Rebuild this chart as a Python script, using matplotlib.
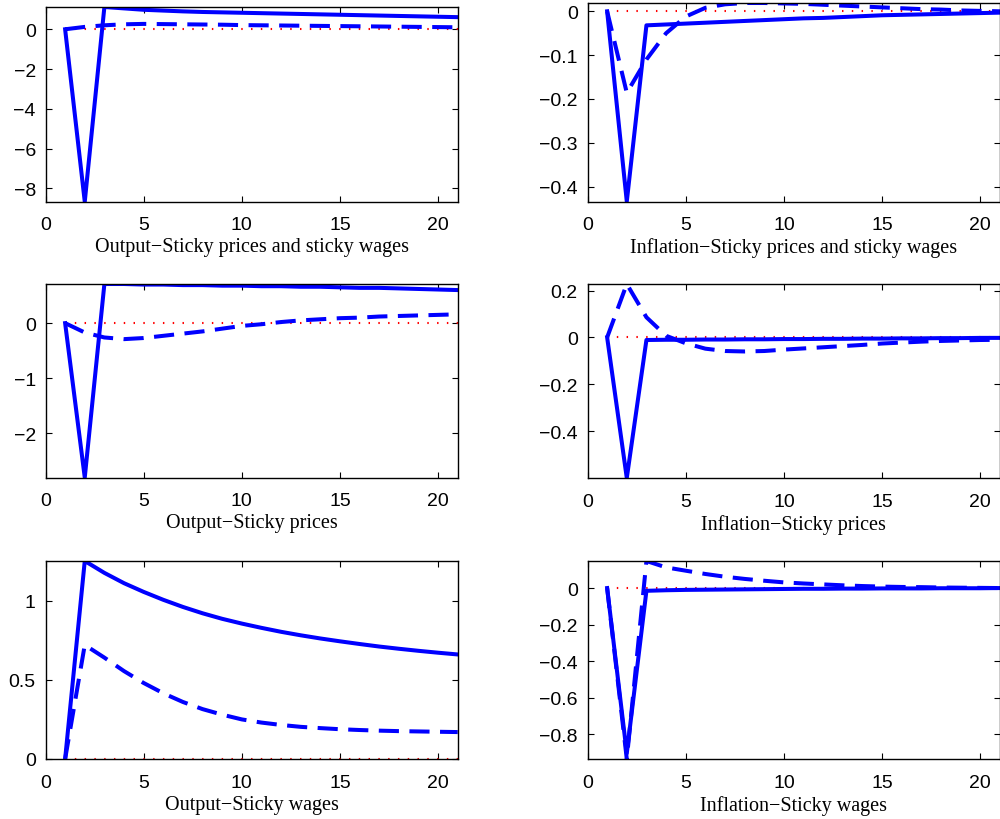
import matplotlib
matplotlib.use('Agg')
import matplotlib.pyplot as plt
from matplotlib.ticker import FuncFormatter

periods = list(range(1, 22))

# Output - sticky prices and sticky wages
out_both_solid = [0, -8.67, 1.12, 1.05, 0.98, 0.94, 0.90, 0.87, 0.85, 0.83, 0.81, 0.79, 0.77,
                  0.75, 0.73, 0.71, 0.69, 0.67, 0.65, 0.63, 0.61]
out_both_dash = [0, 0.12, 0.2, 0.25, 0.27, 0.26, 0.25, 0.24, 0.23, 0.21, 0.2, 0.19, 0.18,
                 0.17, 0.16, 0.15, 0.14, 0.13, 0.12, 0.11, 0.1]

# Inflation - sticky prices and sticky wages
inf_both_solid = [0, -0.434, -0.032, -0.030, -0.028, -0.026, -0.024, -0.022, -0.020, -0.018,
                  -0.016, -0.015, -0.013, -0.011, -0.009, -0.008, -0.007, -0.006, -0.005,
                  -0.004, -0.003]
inf_both_dash = [0, -0.186, -0.11, -0.05, -0.012, 0.008, 0.016, 0.019, 0.019, 0.018, 0.017,
                 0.015, 0.013, 0.011, 0.009, 0.007, 0.005, 0.004, 0.002, 0.001, 0.0]

# Output - sticky prices
out_p_solid = [0, -2.80, 0.71, 0.71, 0.70, 0.70, 0.69, 0.69, 0.68, 0.68, 0.67, 0.67, 0.66,
               0.66, 0.65, 0.64, 0.64, 0.63, 0.62, 0.61, 0.60]
out_p_dash = [0, -0.17, -0.26, -0.29, -0.27, -0.23, -0.19, -0.15, -0.10, -0.05, -0.02, 0.02,
              0.05, 0.07, 0.09, 0.10, 0.12, 0.13, 0.14, 0.15, 0.16]

# Inflation - sticky prices
inf_p_solid = [0, -0.60, -0.011, -0.010, -0.010, -0.009, -0.009, -0.008, -0.008, -0.007,
               -0.007, -0.006, -0.006, -0.005, -0.005, -0.004, -0.004, -0.003, -0.003,
               -0.002, -0.002]
inf_p_dash = [0, 0.228, 0.086, 0.007, -0.025, -0.048, -0.058, -0.06, -0.058, -0.052, -0.047,
              -0.042, -0.037, -0.032, -0.026, -0.022, -0.018, -0.015, -0.013, -0.011, -0.01]

# Output - sticky wages
out_w_solid = [0, 1.25, 1.175, 1.11, 1.055, 1.005, 0.96, 0.92, 0.885, 0.855, 0.828, 0.803,
               0.781, 0.761, 0.743, 0.726, 0.71, 0.696, 0.683, 0.671, 0.66]
out_w_dash = [0, 0.72, 0.64, 0.555, 0.48, 0.415, 0.36, 0.315, 0.28, 0.25, 0.23, 0.215,
              0.203, 0.195, 0.188, 0.183, 0.179, 0.176, 0.174, 0.172, 0.17]

# Inflation - sticky wages
inf_w_solid = [0, -0.904, -0.015, -0.012, -0.01, -0.009, -0.008, -0.007, -0.006, -0.005,
               -0.004, -0.004, -0.003, -0.003, -0.002, -0.002, -0.002, -0.001, -0.001,
               -0.001, 0.0]
inf_w_dash = [0, -0.935, 0.148, 0.113, 0.095, 0.077, 0.062, 0.05, 0.04, 0.031, 0.025, 0.02,
              0.015, 0.011, 0.008, 0.006, 0.005, 0.003, 0.002, 0.001, 0.0]

zero_line = [0] * len(periods)

titles = ['Output\u2212Sticky prices and sticky wages',
          'Inflation\u2212Sticky prices and sticky wages',
          'Output\u2212Sticky prices', 'Inflation\u2212Sticky prices',
          'Output\u2212Sticky wages', 'Inflation\u2212Sticky wages']
solids = [out_both_solid, inf_both_solid, out_p_solid, inf_p_solid, out_w_solid, inf_w_solid]
dashes = [out_both_dash, inf_both_dash, out_p_dash, inf_p_dash, out_w_dash, inf_w_dash]
yticks = [[-8, -6, -4, -2, 0], [-0.4, -0.3, -0.2, -0.1, 0], [-2, -1, 0],
          [-0.4, -0.2, 0, 0.2], [0, 0.5, 1], [-0.8, -0.6, -0.4, -0.2, 0]]

# axes rectangles in pixels: left, top, right, bottom
rects = [(45.5, 8, 457.7, 202.7), (587.5, 4, 1000, 202.5),
         (45.5, 285, 457.7, 478.5), (587.5, 285, 1000, 479),
         (45.5, 562, 457.7, 760), (587.5, 562, 1000, 760)]

fig = plt.figure(figsize=(10, 8.2), dpi=100)

fmt = FuncFormatter(lambda v, p: ('%g' % v).replace('-', '\u2212'))

for i in range(6):
    l, t, r, b = rects[i]
    ax = fig.add_axes([l / 1000, 1 - b / 820, (r - l) / 1000, (b - t) / 820])
    ax.plot(periods, zero_line, color='red', linestyle=(0, (0.7, 4.0)), linewidth=1.5)
    ax.plot(periods, dashes[i], color='blue', linewidth=2.9, dashes=(5, 2.6))
    ax.plot(periods, solids[i], color='blue', linewidth=2.9)
    ax.set_xlim(0, 21)
    lo = min(min(solids[i]), min(dashes[i]), 0)
    hi = max(max(solids[i]), max(dashes[i]), 0)
    ax.set_ylim(lo, hi)
    ax.set_xticks([0, 5, 10, 15, 20])
    ax.set_yticks(yticks[i])
    ax.yaxis.set_major_formatter(fmt)
    ax.tick_params(direction='in', length=4, width=0.8, top=True, right=True,
                   labelsize=14, pad=7)
    ax.tick_params(axis='x', pad=10.5)
    for lab in ax.get_xticklabels() + ax.get_yticklabels():
        lab.set_fontfamily('Liberation Sans')
    ax.set_xlabel(titles[i], fontsize=14.5, family='Liberation Serif', labelpad=3)
    for s in ax.spines.values():
        s.set_linewidth(1.0)

plt.savefig('out.png', dpi=100)
